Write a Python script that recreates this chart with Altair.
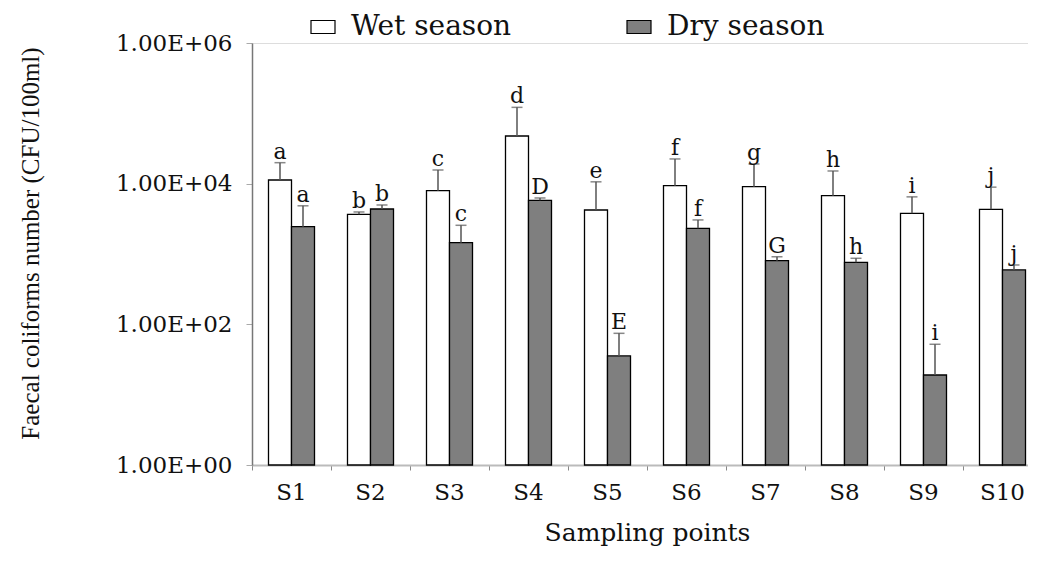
import altair as alt
import pandas as pd

sites = ["S1", "S2", "S3", "S4", "S5", "S6", "S7", "S8", "S9", "S10"]
seasons = ["Wet season", "Dry season"]
wet_mean = [11280, 3670, 7945, 47640, 4225, 9360, 9060, 6750, 3793, 4323]
wet_sd = [8600, 290, 7700, 74000, 6400, 13100, 10000, 8400, 2700, 4600]
dry_mean = [2445, 4365, 1449, 5800, 35.5, 2320, 804, 762, 19.05, 593]
dry_sd = [2400, 610, 1110, 460, 39, 730, 110, 107, 33, 105]
wet_letters = ["a", "b", "c", "d", "e", "f", "g", "h", "i", "j"]
dry_letters = ["a", "b", "c", "D", "E", "f", "G", "h", "i", "j"]

rows = []
for i, s in enumerate(sites):
    rows.append({"site": s, "season": seasons[0], "mean": wet_mean[i],
                 "upper": wet_mean[i] + wet_sd[i], "letter": wet_letters[i]})
    rows.append({"site": s, "season": seasons[1], "mean": dry_mean[i],
                 "upper": dry_mean[i] + dry_sd[i], "letter": dry_letters[i]})
df = pd.DataFrame(rows)

x = alt.X("site:N", sort=sites,
          scale=alt.Scale(range=[0, 790], paddingInner=0, paddingOuter=0),
          axis=alt.Axis(title="Sampling points", labelAngle=0, bandPosition=0,
                        domainColor="#bbbbbb", domainWidth=2, tickColor="#888888",
                        tickSize=5, labelFont="DejaVu Serif", labelFontSize=23,
                        labelColor="#111111", labelPadding=11,
                        titleFont="DejaVu Serif", titleFontSize=25,
                        titleFontWeight="normal", titleColor="#111111",
                        titleY=67, titleBaseline="middle"))
xo = alt.XOffset("season:N", sort=seasons,
                 scale=alt.Scale(paddingOuter=0.717, paddingInner=0))
yscale = alt.Scale(type="log", domain=[1, 1000000])
yaxis = alt.Axis(values=[1, 100, 10000, 1000000],
                 labelExpr="'1.00E+0' + round(log(datum.value)/LN10)",
                 grid=False, domainColor="#777777", domainWidth=1.5,
                 tickColor="#aaaaaa", tickSize=6, labelFont="DejaVu Serif",
                 labelFontSize=23, labelColor="#111111", labelPadding=14,
                 title="Faecal coliforms number (CFU/100ml)",
                 titleFont="Liberation Serif", titleFontSize=25,
                 titleFontWeight="normal", titleColor="#111111",
                 titleX=-222, titleY=200, titleAngle=270, titleAlign="center",
                 titleBaseline="middle")

bars = alt.Chart(df).mark_bar(stroke="black", strokeWidth=1.3).encode(
    x=x, xOffset=xo,
    y=alt.Y("mean:Q", scale=yscale, axis=yaxis),
    y2=alt.datum(1),
    color=alt.Color("season:N", sort=seasons,
                    scale=alt.Scale(domain=seasons, range=["white", "#7f7f7f"]),
                    legend=alt.Legend(title=None, orient="none", legendX=57,
                                      legendY=-30, direction="horizontal",
                                      symbolType="M-1,-0.54H1V0.54H-1Z",
                                      symbolSize=576, symbolStrokeColor="black",
                                      symbolStrokeWidth=1.2,
                                      labelFont="DejaVu Serif", labelFontSize=28,
                                      labelColor="#111111", labelOffset=14,
                                      labelLimit=400, columnPadding=112)),
)

err = alt.Chart(df).mark_rule(color="#555555", strokeWidth=1.5).encode(
    x=x, xOffset=xo, y=alt.Y("mean:Q", scale=yscale), y2="upper:Q")
cap = alt.Chart(df).mark_tick(color="#555555", thickness=1.5, size=11).encode(
    x=x, xOffset=xo, y=alt.Y("upper:Q", scale=yscale))
labels = alt.Chart(df).mark_text(dy=-4, baseline="alphabetic", font="DejaVu Serif",
                                 fontSize=22, color="#111111").encode(
    x=x, xOffset=xo, y=alt.Y("upper:Q", scale=yscale), text="letter:N")

chart = alt.layer(bars, err, cap, labels).properties(
    width=776, height=422,
    autosize=alt.AutoSizeParams(type="none"),
    padding={"left": 244, "top": 35, "right": 0, "bottom": 83},
).configure_view(stroke=None).configure(background="white")

chart.save("out.html", embed_options={"renderer": "svg", "actions": False})
